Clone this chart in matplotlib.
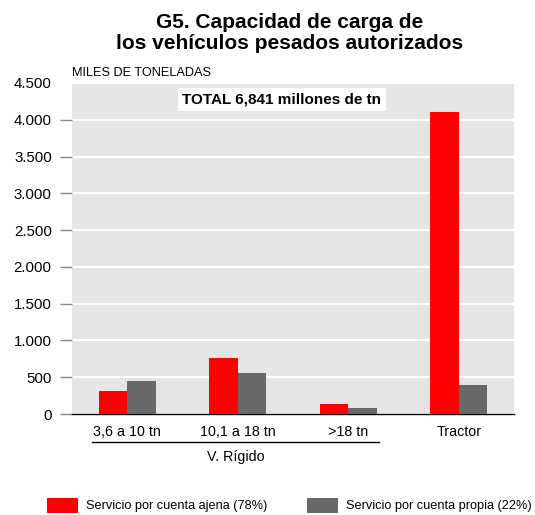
import matplotlib
matplotlib.use("Agg")
import matplotlib.pyplot as plt
from matplotlib.patches import Rectangle
import numpy as np

plt.rcParams['font.family'] = ['Liberation Sans', 'DejaVu Sans']

categories = ["3,6 a 10 tn", "10,1 a 18 tn", ">18 tn", "Tractor"]
ajena = [313, 762, 140, 4110]
propia = [449, 558, 82, 395]
series_labels = ["Servicio por cuenta ajena (78%)", "Servicio por cuenta propia (22%)"]
yticks = [0, 500, 1000, 1500, 2000, 2500, 3000, 3500, 4000, 4500]
ytick_labels = ["0", "500", "1.000", "1.500", "2.000", "2.500", "3.000", "3.500", "4.000", "4.500"]

W, H = 535, 515
fig = plt.figure(figsize=(W/100, H/100), dpi=100)
ax = fig.add_axes([72/W, (H-414)/H, 442/W, (414-83)/H])
ax.set_facecolor("#e5e5e5")

x = np.arange(len(categories))
bw = 0.26
b1 = ax.bar(x - bw/2, ajena, bw, color="#ff0000", label=series_labels[0], zorder=3)
b2 = ax.bar(x + bw/2, propia, bw, color="#686868", label=series_labels[1], zorder=3)

ax.set_xlim(-0.5, 3.5)
ax.set_ylim(0, 4500)
ax.set_yticks(yticks)
ax.set_yticklabels(ytick_labels, fontsize=10.8)
ax.yaxis.grid(True, color="white", linewidth=1.5, zorder=0)
ax.set_axisbelow(True)
ax.tick_params(axis='y', length=8.6, color="#888888", pad=6, width=1)
ax.yaxis.get_major_ticks()[-1].tick1line.set_visible(False)
ax.set_xticks(x)
ax.set_xticklabels(categories, fontsize=10.3)
ax.tick_params(axis='x', length=0, pad=8)
for s in ["top", "right", "left"]:
    ax.spines[s].set_visible(False)
ax.spines["bottom"].set_color("black")
ax.spines["bottom"].set_linewidth(1)

fig.text(290/W, 1 - 33/H, "G5. Capacidad de carga de\nlos vehículos pesados autorizados",
         ha="center", va="center", fontsize=15, fontweight="bold", linespacing=1.1)
fig.text(72/W, 1 - 73/H, "MILES DE TONELADAS", ha="left", va="center", fontsize=9.2)
ax.text(0.475, 0.95, "TOTAL 6,841 millones de tn", transform=ax.transAxes,
        ha="center", va="center", fontsize=11, fontweight="bold",
        bbox=dict(facecolor="white", edgecolor="none", pad=3), zorder=5)

# V. Rígido bracket
fig.add_artist(plt.Line2D([92/W, 379/W], [1 - 442/H, 1 - 442/H], color="black", linewidth=1))
fig.text(236/W, 1 - 457/H, "V. Rígido", ha="center", va="center", fontsize=10.3)

# legend (manual placement)
leg_items = [(47, 86, b1), (307, 346, b2)]
for (px, tx, bars), lab in zip(leg_items, series_labels):
    fig.add_artist(Rectangle((px/W, 1 - 513/H), 31/W, 15/H, transform=fig.transFigure,
                             facecolor=bars.patches[0].get_facecolor(), edgecolor="none"))
    fig.text(tx/W, 1 - 506/H, lab, ha="left", va="center", fontsize=9.2)

fig.savefig("out.png", dpi=100)
